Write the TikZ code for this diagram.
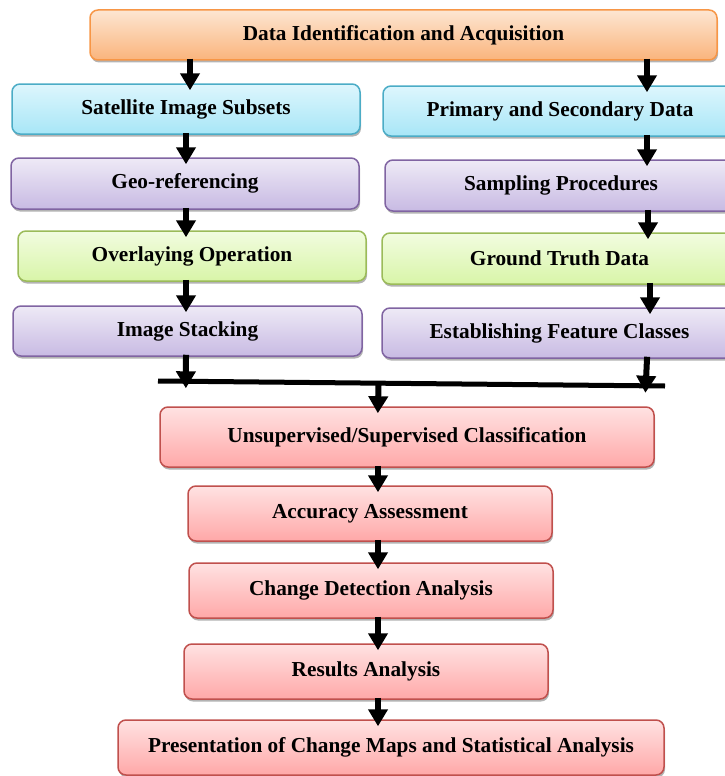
\documentclass[tikz,border=0pt]{standalone}
\usepackage{fontspec}
\setmainfont{Liberation Serif}
\usetikzlibrary{positioning,arrows.meta,shadows,calc}

\definecolor{orangeline}{HTML}{F79646}
\definecolor{orangetop}{HTML}{FDE6D2}
\definecolor{orangebot}{HTML}{FAB47C}
\definecolor{blueline}{HTML}{4BACC6}
\definecolor{bluetop}{HTML}{DDF6FD}
\definecolor{bluebot}{HTML}{A8E6F7}
\definecolor{purpleline}{HTML}{8064A2}
\definecolor{purpletop}{HTML}{EEEAF6}
\definecolor{purplebot}{HTML}{C8BAE3}
\definecolor{greenline}{HTML}{9BBB59}
\definecolor{greentop}{HTML}{F2FCE0}
\definecolor{greenbot}{HTML}{D8F5A8}
\definecolor{redline}{HTML}{C0504D}
\definecolor{redtop}{HTML}{FFE2E2}
\definecolor{redbot}{HTML}{FFA8A8}

\begin{document}
\begin{tikzpicture}[
    x=1pt, y=-1pt,
    box/.style={rectangle, rounded corners=8pt, line width=1.5pt, inner sep=0pt,
      minimum height=50pt, font=\fontsize{21.3}{24}\selectfont\bfseries,
      drop shadow={shadow xshift=1pt, shadow yshift=-2.5pt, fill=black!50, opacity=0.6}},
    orangebox/.style={box, draw=orangeline, top color=orangetop, bottom color=orangebot},
    bluebox/.style={box, draw=blueline, top color=bluetop, bottom color=bluebot},
    purplebox/.style={box, draw=purpleline, top color=purpletop, bottom color=purplebot},
    greenbox/.style={box, draw=greenline, top color=greentop, bottom color=greenbot},
    redbox/.style={box, draw=redline, top color=redtop, bottom color=redbot, minimum height=55pt},
    arr/.style={line width=6pt, -{Triangle[width=19pt 0 1,length=17pt 0 1]}, shorten >=-7pt, shorten <=-2pt}
]

  % page size
  \clip (0,0) rectangle (725,776);

  % top box
  \node[orangebox, minimum width=627pt] (data) at (403.5,35) {Data Identification and Acquisition};

  % left column
  \node[bluebox, minimum width=348pt] (sat) at (186,109) {Satellite Image Subsets};
  \node[purplebox, minimum width=348pt, minimum height=51pt] (geo) at (185,183.5) {Geo-referencing};
  \node[greenbox, minimum width=348pt] (over) at (192,256) {Overlaying Operation};
  \node[purplebox, minimum width=349pt] (stack) at (187.5,331) {Image Stacking};

  % right column
  \node[bluebox, minimum width=354pt] (prim) at (560,111) {Primary and Secondary Data};
  \node[purplebox, minimum width=352pt, minimum height=51pt] (samp) at (561,185.5) {Sampling Procedures};
  \node[greenbox, minimum width=355pt, minimum height=51pt] (truth) at (559.5,258.5) {Ground Truth Data};
  \node[purplebox, minimum width=355pt] (feat) at (559.5,333) {Establishing Feature Classes};

  % lower column
  \node[redbox, minimum width=494pt, minimum height=60pt] (cls) at (407,437) {Unsupervised/Supervised Classification};
  \node[redbox, minimum width=364pt] (acc) at (370,513.5) {Accuracy Assessment};
  \node[redbox, minimum width=364pt] (chg) at (371,590.5) {Change Detection Analysis};
  \node[redbox, minimum width=364pt] (res) at (366,671.5) {Results Analysis};
  \node[redbox, minimum width=546pt] (pres) at (391,747.5) {Presentation of Change Maps and Statistical Analysis};

  % joining bar
  \coordinate (barl) at (158,381);
  \coordinate (barr) at (665,386);
  \coordinate (tcol) at (190,0);
  \coordinate (lcol) at (186,0);
  \coordinate (rcol) at (647,0);
  \coordinate (mcol) at (378,0);
  \draw[line width=5pt] (barl) -- (barr);

  % arrows
  \draw[arr] (data.south -| tcol) -- (sat.north -| tcol);
  \draw[arr] (data.south -| rcol) -- (prim.north -| rcol);
  \draw[arr] (sat.south -| lcol) -- (geo.north -| lcol);
  \draw[arr] (geo.south -| lcol) -- (over.north -| lcol);
  \draw[arr] (over.south -| lcol) -- (stack.north -| lcol);
  \draw[arr] (stack.south -| lcol) -- ($(barl)!0.055!(barr)$);
  \draw[arr] (prim.south -| rcol) -- (samp.north -| rcol);
  \draw[arr] ([xshift=1pt]samp.south -| rcol) -- ([xshift=1pt]truth.north -| rcol);
  \draw[arr] ([xshift=3pt]truth.south -| rcol) -- ([xshift=3pt]feat.north -| rcol);
  \draw[arr] (feat.south -| rcol) -- ($(barl)!0.962!(barr)$);
  \draw[arr] ($(barl)!0.435!(barr)$) -- (cls.north -| mcol);
  \draw[arr] (cls.south -| mcol) -- (acc.north -| mcol);
  \draw[arr] (acc.south -| mcol) -- (chg.north -| mcol);
  \draw[arr] (chg.south -| mcol) -- (res.north -| mcol);
  \draw[arr] (res.south -| mcol) -- (pres.north -| mcol);
\end{tikzpicture}
\end{document}
